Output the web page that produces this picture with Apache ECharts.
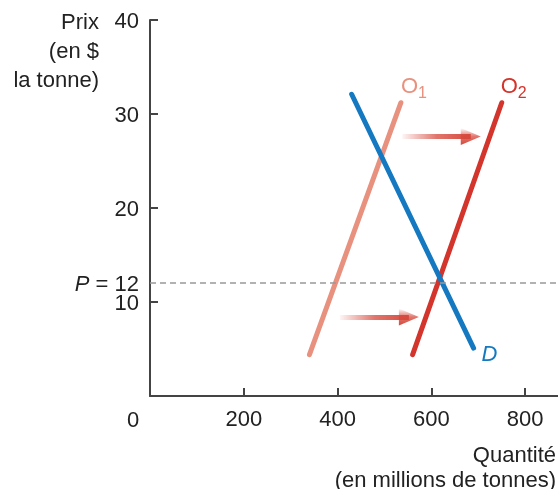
<!DOCTYPE html>
<html><head><meta charset="utf-8">
<script src="https://cdn.jsdelivr.net/npm/echarts@6/dist/echarts.min.js"></script>
<style>html,body{margin:0;padding:0;background:#fff}#c{width:558px;height:489px}</style>
</head><body><div id="c"></div>
<script>
// Data
const xTicks = [200, 400, 600, 800];
const yTicks = [10, 20, 30, 40];
const priceEq = 12;
const supplyO1 = [[340, 4.4], [535, 31.2]];
const supplyO2 = [[560, 4.4], [750, 31.2]];
const demandD = [[430, 32.1], [690, 5.1]];
const arrowUpper = [[538, 27.6], [684, 27.6]];
const arrowLower = [[405, 8.4], [552, 8.4]];

const FONT = "'Liberation Sans', Arial, sans-serif";
const FS = 22;
const TXT = FS + "px 'Liberation Sans', Arial, sans-serif";
const C1 = '#E8917F', C2 = '#D3342C', CD = '#1479C1';
const chart = echarts.init(document.getElementById('c'), null, {renderer: 'canvas'});

function arrowSeries(pts) {
  return {
    type: 'line', data: [], silent: true,
    markLine: {
      silent: true, symbol: ['none', 'triangle'], symbolSize: [17, 20],
      label: {show: false}, emphasis: {disabled: true},
      lineStyle: {
        width: 5, type: 'solid',
        color: new echarts.graphic.LinearGradient(0, 0, 1, 0, [
          {offset: 0, color: 'rgba(214,72,60,0.0)'},
          {offset: 0.5, color: 'rgba(214,72,60,0.75)'},
          {offset: 1, color: 'rgba(214,72,60,1)'}
        ])
      },
      itemStyle: {color: '#D5483C'},
      data: [[{coord: pts[0]}, {coord: pts[1]}]]
    }
  };
}

function curve(name, pts, color, labelFmt, pos, rich) {
  return {
    name: name, type: 'line', silent: true,
    symbol: 'circle', symbolSize: 0, showSymbol: true,
    lineStyle: {color: color, width: 5, cap: 'round'},
    itemStyle: {color: color},
    data: [
      {value: pts[0], label: {show: false}},
      {value: pts[1], label: {show: true, formatter: labelFmt, position: pos, rich: rich}}
    ],
    z: 3
  };
}

const richO = (color) => ({
  o: {fontFamily: FONT, fontSize: FS, color: color},
  s: {fontFamily: FONT, fontSize: 16, color: color, verticalAlign: 'bottom', padding: [14, 0, 0, 0]}
});

chart.setOption({
  animation: false,
  grid: {left: 150, right: 0, top: 20, bottom: 93, containLabel: false},
  xAxis: {
    type: 'value', min: 0, max: 870,
    axisLine: {show: true, lineStyle: {color: '#444', width: 2}},
    axisTick: {show: true, inside: true, length: 8, lineStyle: {color: '#444', width: 2}, customValues: xTicks},
    axisLabel: {show: true, customValues: xTicks, margin: 13, fontFamily: FONT, fontSize: FS, color: '#222'},
    splitLine: {show: false}
  },
  yAxis: {
    type: 'value', min: 0, max: 40,
    axisLine: {show: true, lineStyle: {color: '#444', width: 2}},
    axisTick: {show: true, inside: true, length: 8, lineStyle: {color: '#444', width: 2}, customValues: yTicks},
    axisLabel: {
      show: true, customValues: yTicks.concat([priceEq]), margin: 11,
      fontFamily: FONT, fontSize: FS, color: '#222', padding: [4, 0, 0, 0],
      formatter: v => v === priceEq ? '{p|P} = ' + priceEq : String(v),
      rich: {p: {fontFamily: FONT, fontSize: FS, fontStyle: 'italic', color: '#222'}}
    },
    splitLine: {show: false}
  },
  graphic: [
    {type: 'text', right: 459, top: 12, style: {text: 'Prix', font: TXT, fill: '#222', align: 'right'}},
    {type: 'text', right: 459, top: 41, style: {text: '(en $', font: TXT, fill: '#222', align: 'right'}},
    {type: 'text', right: 459, top: 70, style: {text: 'la tonne)', font: TXT, fill: '#222', align: 'right'}},
    {type: 'text', left: 127, top: 410, style: {text: '0', font: TXT, fill: '#222'}},
    {type: 'text', right: 2, top: 445, style: {text: 'Quantité', font: TXT, fill: '#222', align: 'right'}},
    {type: 'text', right: 2, top: 470, style: {text: '(en millions de tonnes)', font: TXT, fill: '#222', align: 'right'}}
  ],
  series: [
    {
      type: 'line', data: [], silent: true,
      markLine: {
        silent: true, symbol: ['none', 'none'], label: {show: false},
        lineStyle: {color: '#999', width: 1.5, type: [6, 4]},
        data: [{yAxis: priceEq}]
      }
    },
    arrowSeries(arrowUpper),
    arrowSeries(arrowLower),
    curve('O1', supplyO1, C1, '{o|O}{s|1}', [0, -31], richO(C1)),
    curve('O2', supplyO2, C2, '{o|O}{s|2}', [-1, -31], richO(C2)),
    curve('D', demandD, CD, '{d|D}', [8, -4], {d: {fontFamily: FONT, fontSize: FS, fontStyle: 'italic', color: CD}})
  ]
});
</script></body></html>
